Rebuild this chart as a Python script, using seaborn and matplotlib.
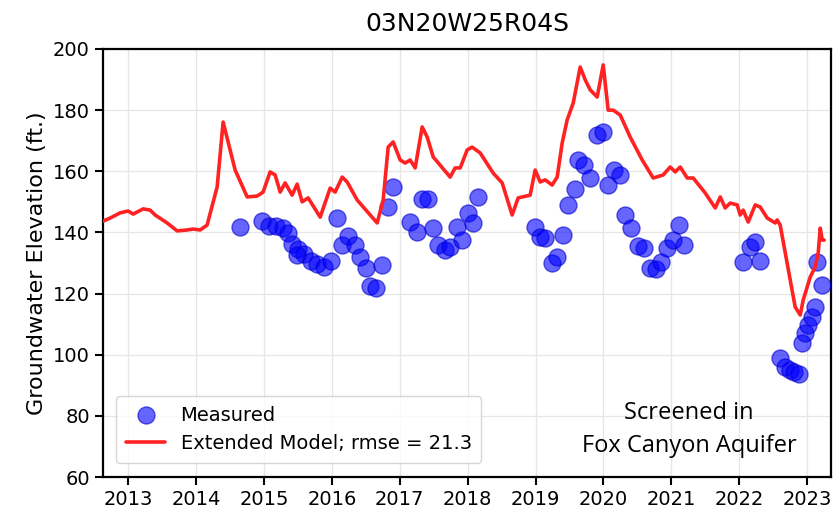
import matplotlib
matplotlib.use("Agg")
import matplotlib.pyplot as plt
import seaborn as sns
import pandas as pd

title = "03N20W25R04S"
ylabel = "Groundwater Elevation (ft.)"
label_measured = "Measured"
label_model = "Extended Model; rmse = 21.3"
note = "Screened in\nFox Canyon Aquifer"

x_ticks = [2013, 2014, 2015, 2016, 2017, 2018, 2019, 2020, 2021, 2022, 2023]
y_ticks = [60, 80, 100, 120, 140, 160, 180, 200]

model_years = [2012.632, 2012.735, 2012.882, 2013.000, 2013.074, 2013.221, 2013.324, 2013.398,
               2013.574, 2013.722, 2013.869, 2013.957, 2014.060, 2014.163, 2014.311, 2014.399,
               2014.576, 2014.753, 2014.900, 2014.988, 2015.091, 2015.165, 2015.239, 2015.312,
               2015.415, 2015.489, 2015.563, 2015.651, 2015.828, 2015.975, 2016.049, 2016.152,
               2016.225, 2016.373, 2016.667, 2016.756, 2016.829, 2016.903, 2017.006, 2017.080,
               2017.153, 2017.227, 2017.330, 2017.404, 2017.492, 2017.742, 2017.816, 2017.890,
               2017.993, 2018.066, 2018.184, 2018.376, 2018.508, 2018.655, 2018.744, 2018.920,
               2018.994, 2019.068, 2019.141, 2019.244, 2019.318, 2019.392, 2019.465, 2019.554,
               2019.657, 2019.731, 2019.805, 2019.907, 2019.996, 2020.069, 2020.143, 2020.246,
               2020.393, 2020.570, 2020.732, 2020.879, 2020.982, 2021.056, 2021.130, 2021.233,
               2021.321, 2021.498, 2021.645, 2021.719, 2021.792, 2021.866, 2021.969, 2022.013,
               2022.057, 2022.131, 2022.234, 2022.308, 2022.411, 2022.529, 2022.558, 2022.602,
               2022.750, 2022.823, 2022.897, 2022.941, 2023.044, 2023.118, 2023.162, 2023.192,
               2023.221, 2023.250]
model_values = [143.7, 144.7, 146.4, 147.0, 146.0, 147.7, 147.3, 145.7,
                143.1, 140.5, 140.8, 141.1, 140.8, 142.4, 154.9, 176.1,
                160.4, 151.6, 151.9, 153.2, 159.8, 158.8, 153.2, 156.2,
                152.2, 155.8, 150.0, 151.3, 145.0, 154.5, 153.2, 158.1,
                156.5, 150.6, 143.1, 150.6, 167.9, 169.6, 163.7, 162.7,
                163.7, 161.1, 174.5, 171.2, 164.7, 158.1, 161.1, 161.1,
                167.0, 167.9, 166.0, 159.4, 156.2, 145.7, 151.3, 152.2,
                160.4, 156.5, 157.2, 155.5, 158.1, 169.3, 176.8, 182.3,
                194.1, 189.9, 186.6, 184.3, 194.8, 180.0, 180.0, 178.4,
                171.2, 163.7, 157.8, 158.8, 161.4, 159.8, 161.4, 157.8,
                157.8, 152.9, 148.0, 151.6, 148.0, 149.6, 149.0, 145.7,
                147.3, 143.4, 149.0, 148.3, 144.7, 143.1, 144.1, 142.4,
                124.4, 115.6, 113.0, 117.9, 125.4, 128.7, 133.3, 141.4,
                137.5, 137.5]

meas_years = [2014.65, 2014.97, 2015.08, 2015.18, 2015.28, 2015.36, 2015.42, 2015.50,
              2015.59, 2015.49, 2015.70, 2015.78, 2015.89, 2015.99, 2016.08, 2016.15,
              2016.24, 2016.34, 2016.42, 2016.51, 2016.56, 2016.65, 2016.74, 2016.83,
              2016.90, 2017.15, 2017.26, 2017.33, 2017.42, 2017.49, 2017.57, 2017.67,
              2017.74, 2017.85, 2017.91, 2018.01, 2018.08, 2018.15, 2018.99, 2019.07,
              2019.14, 2019.24, 2019.32, 2019.41, 2019.48, 2019.58, 2019.63, 2019.72,
              2019.80, 2019.90, 2019.99, 2020.06, 2020.16, 2020.24, 2020.31, 2020.41,
              2020.51, 2020.59, 2020.68, 2020.78, 2020.85, 2020.94, 2021.02, 2021.11,
              2021.18, 2022.06, 2022.16, 2022.23, 2022.31, 2022.60, 2022.68, 2022.74,
              2022.81, 2022.88, 2022.93, 2022.97, 2023.01, 2023.07, 2023.12, 2023.15,
              2023.22]
meas_values = [141.8, 143.7, 142.1, 142.1, 141.5, 139.8, 136.2, 134.6,
               132.9, 132.6, 130.7, 129.7, 128.7, 130.7, 144.7, 135.9,
               138.8, 135.9, 132.0, 128.4, 122.5, 121.8, 129.3, 148.3,
               154.9, 143.4, 140.1, 150.9, 150.9, 141.5, 135.9, 134.3,
               135.2, 141.8, 137.5, 146.4, 143.1, 151.6, 141.8, 138.5,
               138.2, 130.0, 132.0, 139.2, 149.0, 154.2, 163.7, 162.1,
               157.8, 171.9, 172.9, 155.5, 160.4, 158.8, 145.7, 141.5,
               135.6, 134.9, 128.4, 128.0, 130.3, 134.9, 137.5, 142.4,
               135.9, 130.3, 135.2, 136.9, 130.7, 98.9, 96.0, 95.0,
               94.3, 93.7, 103.8, 107.1, 109.7, 112.3, 115.6, 130.3,
               122.8]

df_model = pd.DataFrame({"year": model_years, "value": model_values})
df_meas = pd.DataFrame({"year": meas_years, "value": meas_values})

sns.set_style("whitegrid")
plt.rcParams["font.family"] = ["DejaVu Sans"]
plt.rcParams["text.color"] = "black"
plt.rcParams["axes.labelcolor"] = "black"
plt.rcParams["xtick.color"] = "black"
plt.rcParams["ytick.color"] = "black"

fig = plt.figure(figsize=(8.36, 5.19), dpi=100)
ax = fig.add_axes([0.1232, 0.0809, 0.8708, 0.8247])

sns.scatterplot(data=df_meas, x="year", y="value", ax=ax, color="#0000ff", alpha=0.6,
                s=150, edgecolor="#0000cc", linewidth=1.0, label=label_measured, zorder=3)
sns.lineplot(data=df_model, x="year", y="value", ax=ax, color="#ff2222", linewidth=2.6,
             label=label_model, zorder=4)

ax.set_xlim(2012.63, 2023.35)
ax.set_ylim(60, 200)
ax.set_xticks(x_ticks)
ax.set_xticklabels([str(t) for t in x_ticks])
ax.set_yticks(y_ticks)
ax.set_xlabel("")
ax.set_ylabel(ylabel, fontsize=16, labelpad=4)
ax.set_title(title, fontsize=18, pad=13)
ax.tick_params(axis="both", labelsize=14, length=6, width=1.5, colors="black",
               left=True, bottom=True, direction="out")
ax.grid(True, color="#e6e6e6", linewidth=0.9)
for sp in ax.spines.values():
    sp.set_color("black")
    sp.set_linewidth(1.6)

leg = ax.legend(loc="lower left", fontsize=14, frameon=True, borderpad=0.5,
                handlelength=2.0, bbox_to_anchor=(0.005, 0.01))
leg.get_frame().set_edgecolor("#cccccc")

ax.text(0.805, 0.11, note, transform=ax.transAxes, ha="center", va="center",
        fontsize=17, family=["Open Sans", "DejaVu Sans"], linespacing=1.5)

fig.savefig("out.png", dpi=100)
